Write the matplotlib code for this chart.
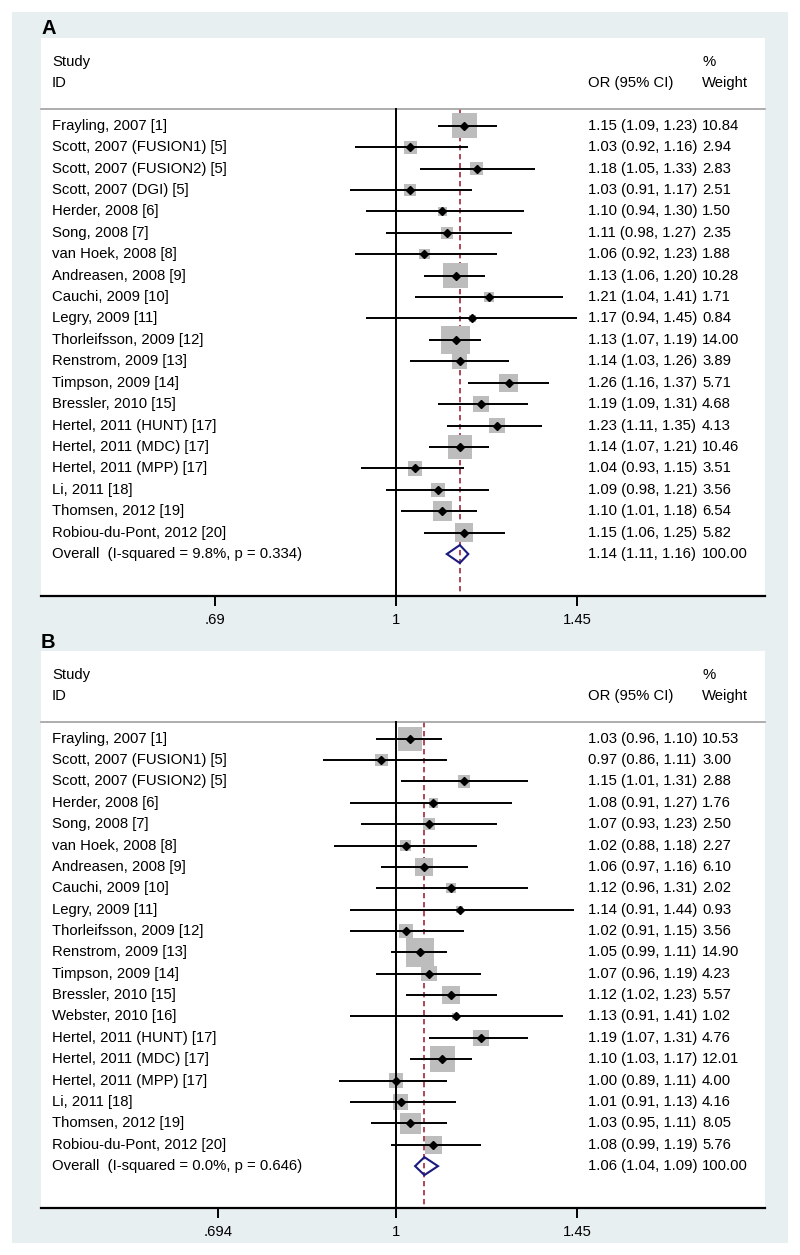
import numpy as np
import matplotlib
matplotlib.use("Agg")
import matplotlib.pyplot as plt
from matplotlib.patches import Rectangle
import matplotlib.transforms as mtransforms

plt.rcParams["font.family"] = ["Liberation Sans", "DejaVu Sans"]

BG = "#E8EFF1"
BOX = "#BDBDBD"
DASH = "#A0283A"
NAVY = "#1A1A80"
FS = 10.7

# ---- panel A data ----
studies_a = [
    "Frayling, 2007 [1]", "Scott, 2007 (FUSION1) [5]", "Scott, 2007 (FUSION2) [5]",
    "Scott, 2007 (DGI) [5]", "Herder, 2008 [6]", "Song, 2008 [7]", "van Hoek, 2008 [8]",
    "Andreasen, 2008 [9]", "Cauchi, 2009 [10]", "Legry, 2009 [11]",
    "Thorleifsson, 2009 [12]", "Renstrom, 2009 [13]", "Timpson, 2009 [14]",
    "Bressler, 2010 [15]", "Hertel, 2011 (HUNT) [17]", "Hertel, 2011 (MDC) [17]",
    "Hertel, 2011 (MPP) [17]", "Li, 2011 [18]", "Thomsen, 2012 [19]",
    "Robiou-du-Pont, 2012 [20]",
]
or_a = [1.15, 1.03, 1.18, 1.03, 1.10, 1.11, 1.06, 1.13, 1.21, 1.17,
        1.13, 1.14, 1.26, 1.19, 1.23, 1.14, 1.04, 1.09, 1.10, 1.15]
lo_a = [1.09, 0.92, 1.05, 0.91, 0.94, 0.98, 0.92, 1.06, 1.04, 0.94,
        1.07, 1.03, 1.16, 1.09, 1.11, 1.07, 0.93, 0.98, 1.01, 1.06]
hi_a = [1.23, 1.16, 1.33, 1.17, 1.30, 1.27, 1.23, 1.20, 1.41, 1.45,
        1.19, 1.26, 1.37, 1.31, 1.35, 1.21, 1.15, 1.21, 1.18, 1.25]
wt_a = [10.84, 2.94, 2.83, 2.51, 1.50, 2.35, 1.88, 10.28, 1.71, 0.84,
        14.00, 3.89, 5.71, 4.68, 4.13, 10.46, 3.51, 3.56, 6.54, 5.82]
overall_a = (1.14, 1.11, 1.16)
overall_label_a = "Overall  (I-squared = 9.8%, p = 0.334)"
ticks_a = [0.69, 1, 1.45]
ticklabels_a = [".69", "1", "1.45"]

# ---- panel B data ----
studies_b = [
    "Frayling, 2007 [1]", "Scott, 2007 (FUSION1) [5]", "Scott, 2007 (FUSION2) [5]",
    "Herder, 2008 [6]", "Song, 2008 [7]", "van Hoek, 2008 [8]", "Andreasen, 2008 [9]",
    "Cauchi, 2009 [10]", "Legry, 2009 [11]", "Thorleifsson, 2009 [12]",
    "Renstrom, 2009 [13]", "Timpson, 2009 [14]", "Bressler, 2010 [15]",
    "Webster, 2010 [16]", "Hertel, 2011 (HUNT) [17]", "Hertel, 2011 (MDC) [17]",
    "Hertel, 2011 (MPP) [17]", "Li, 2011 [18]", "Thomsen, 2012 [19]",
    "Robiou-du-Pont, 2012 [20]",
]
or_b = [1.03, 0.97, 1.15, 1.08, 1.07, 1.02, 1.06, 1.12, 1.14, 1.02,
        1.05, 1.07, 1.12, 1.13, 1.19, 1.10, 1.00, 1.01, 1.03, 1.08]
lo_b = [0.96, 0.86, 1.01, 0.91, 0.93, 0.88, 0.97, 0.96, 0.91, 0.91,
        0.99, 0.96, 1.02, 0.91, 1.07, 1.03, 0.89, 0.91, 0.95, 0.99]
hi_b = [1.10, 1.11, 1.31, 1.27, 1.23, 1.18, 1.16, 1.31, 1.44, 1.15,
        1.11, 1.19, 1.23, 1.41, 1.31, 1.17, 1.11, 1.13, 1.11, 1.19]
wt_b = [10.53, 3.00, 2.88, 1.76, 2.50, 2.27, 6.10, 2.02, 0.93, 3.56,
        14.90, 4.23, 5.57, 1.02, 4.76, 12.01, 4.00, 4.16, 8.05, 5.76]
overall_b = (1.06, 1.04, 1.09)
overall_label_b = "Overall  (I-squared = 0.0%, p = 0.646)"
ticks_b = [0.694, 1, 1.45]
ticklabels_b = [".694", "1", "1.45"]


def forest(ax, studies, est, lo, hi, wt, overall, overall_label, ticks, ticklabels):
    n = len(studies)
    rows = np.arange(n)
    orow = n
    ax.set_xscale("log")
    ax.set_xlim(0.4825, 2.133)
    ax.set_ylim(orow + 1.96, -4.1)
    ax.set_facecolor("white")
    for s in ["top", "left", "right"]:
        ax.spines[s].set_visible(False)
    ax.spines["bottom"].set_linewidth(1.6)
    ax.set_yticks([])
    ax.set_xticks(ticks)
    ax.set_xticklabels(ticklabels)
    ax.minorticks_off()
    ax.tick_params(axis="x", length=7, width=1.4, labelsize=FS, pad=5)

    tr = mtransforms.blended_transform_factory(ax.transAxes, ax.transData)
    sep = -0.77
    ax.plot([0, 1], [sep, sep], transform=tr, color="#A0A0A0", lw=1.2, clip_on=False)

    bottom = orow + 1.96
    ax.plot([1, 1], [sep, bottom], color="black", lw=1.4, zorder=3)
    ax.plot([overall[0]] * 2, [sep, bottom], color=DASH, lw=1.2,
            dashes=(3.2, 2.2), zorder=1)

    wmax = max(wt)
    sizes = (20.5 * np.sqrt(np.array(wt) / wmax)) ** 2
    ax.scatter(est, rows, s=sizes, marker="s", color=BOX, linewidths=0, zorder=2)
    ax.hlines(rows, lo, hi, color="black", lw=1.4, zorder=4)
    ax.plot(est, rows, "D", color="black", ms=3.6, zorder=5)

    e, l, h = overall
    ax.fill([l, e, h, e, l], [orow, orow - 0.42, orow, orow + 0.42, orow],
            facecolor="none", edgecolor=NAVY, lw=1.5, zorder=5)

    ax.text(0.0152, -3, "Study", transform=tr, fontsize=FS, va="center")
    ax.text(0.0152, -2, "ID", transform=tr, fontsize=FS, va="center")
    ax.text(0.7555, -2, "OR (95% CI)", transform=tr, fontsize=FS, va="center")
    ax.text(0.913, -3, "%", transform=tr, fontsize=FS, va="center")
    ax.text(0.913, -2, "Weight", transform=tr, fontsize=FS, va="center")

    for i in range(n):
        ax.text(0.0152, i, studies[i], transform=tr, fontsize=FS, va="center")
        ax.text(0.7555, i, f"{est[i]:.2f} ({lo[i]:.2f}, {hi[i]:.2f})",
                transform=tr, fontsize=FS, va="center")
        ax.text(0.913, i, f"{wt[i]:.2f}", transform=tr, fontsize=FS, va="center")
    ax.text(0.0152, orow, overall_label, transform=tr, fontsize=FS, va="center")
    ax.text(0.7555, orow, f"{e:.2f} ({l:.2f}, {h:.2f})", transform=tr,
            fontsize=FS, va="center")
    ax.text(0.913, orow, "100.00", transform=tr, fontsize=FS, va="center")


W, H = 800, 1255
fig = plt.figure(figsize=(W / 100, H / 100), dpi=100)
fig.patch.set_facecolor("white")
fig.patches.append(Rectangle((12 / W, 1 - 1243 / H), 776 / W, 1231 / H,
                             transform=fig.transFigure, facecolor=BG,
                             edgecolor="none", zorder=-10))

ax_a = fig.add_axes([41 / W, 1 - 596 / H, 724 / W, (596 - 38) / H])
ax_b = fig.add_axes([41 / W, 1 - 1208 / H, 724 / W, (1208 - 651) / H])

forest(ax_a, studies_a, or_a, lo_a, hi_a, wt_a, overall_a, overall_label_a,
       ticks_a, ticklabels_a)
forest(ax_b, studies_b, or_b, lo_b, hi_b, wt_b, overall_b, overall_label_b,
       ticks_b, ticklabels_b)

fig.text(41 / W, 1 - 29 / H, "A", fontsize=14.5, fontweight="bold", va="center")
fig.text(41 / W, 1 - 642 / H, "B", fontsize=14.5, fontweight="bold", va="center")

fig.savefig("out.png", dpi=100)
